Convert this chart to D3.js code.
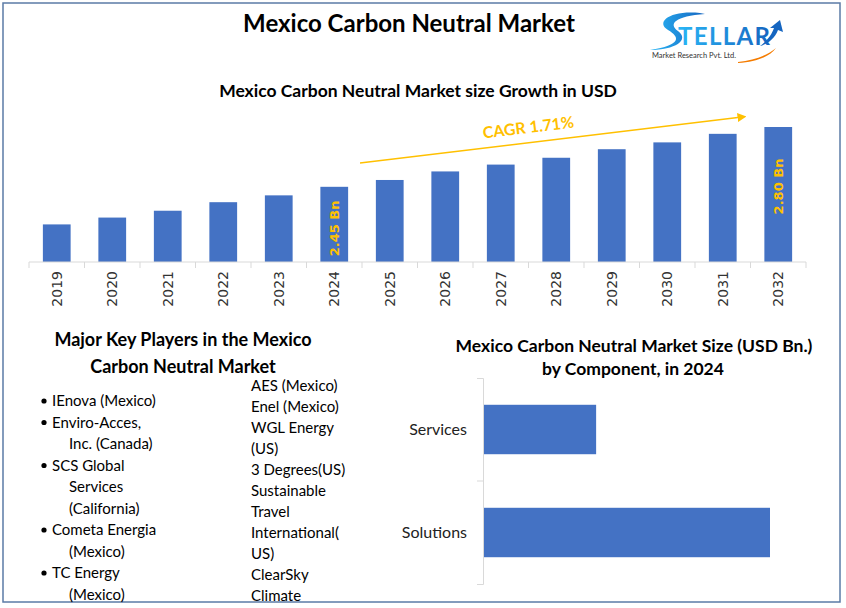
<!DOCTYPE html>
<html>
<head>
<meta charset="utf-8">
<script src="https://cdn.jsdelivr.net/npm/d3@7"></script>
<style>
  body { margin: 0; background: #fff; }
  svg { display: block; }
</style>
</head>
<body>
<svg width="846" height="608"></svg>
<script>
// data
var years = [2019, 2020, 2021, 2022, 2023, 2024, 2025, 2026, 2027, 2028, 2029, 2030, 2031, 2032];
var marketSize = [2.23, 2.27, 2.31, 2.36, 2.40, 2.45, 2.49, 2.54, 2.58, 2.62, 2.67, 2.71, 2.76, 2.80]; // USD Bn
var valueLabels = [{ year: 2024, text: '2.45 Bn' }, { year: 2032, text: '2.80 Bn' }];
var cagrText = 'CAGR 1.71%';

var components = ['Services', 'Solutions'];
var componentValues = [0.69, 1.76]; // USD Bn, 2024

var playersLeft = [
  ['IEnova (Mexico)'],
  ['Enviro-Acces,', 'Inc. (Canada)'],
  ['SCS Global', 'Services', '(California)'],
  ['Cometa Energia', '(Mexico)'],
  ['TC Energy', '(Mexico)']
];
var playersRight = ['AES (Mexico)', 'Enel (Mexico)', 'WGL Energy', '(US)', '3 Degrees(US)',
  'Sustainable', 'Travel', 'International(', 'US)', 'ClearSky', 'Climate'];

var pic = d3.select('svg');
var blue = '#4472c4';
var gold = '#ffc000';
var font = 'Lato, Carlito, sans-serif';

// frame
pic.append('rect').attr('x', 3).attr('y', 3).attr('width', 837).attr('height', 599)
  .attr('fill', 'none').attr('stroke', '#5b7ba6').attr('stroke-width', 1.5);

// titles
pic.append('text').attr('x', 409).attr('y', 32).attr('text-anchor', 'middle')
  .style('font', 'bold 24px ' + font).attr('fill', '#000').text('Mexico Carbon Neutral Market');
pic.append('text').attr('x', 418).attr('y', 97).attr('text-anchor', 'middle')
  .style('font', 'bold 17.5px ' + font).attr('fill', '#000').text('Mexico Carbon Neutral Market size Growth in USD');

// logo (rough)
var logo = pic.append('g');
var grad = pic.append('defs').append('linearGradient').attr('id', 'lg').attr('x1', 0).attr('x2', 1);
grad.append('stop').attr('offset', 0).attr('stop-color', '#29b6f6');
grad.append('stop').attr('offset', 1).attr('stop-color', '#1565c0');
logo.append('path').attr('d', 'M700,13 C670,10 655,22 668,30 C680,37 682,45 650,50 C675,50 690,40 678,31 C668,24 675,16 705,14 Z')
  .attr('fill', 'url(#lg)');
logo.append('text').attr('x', 678).attr('y', 45).style('font', 'bold 24px ' + font)
  .attr('fill', 'url(#lg)').attr('textLength', 92).text('TELLAR');
logo.append('path').attr('d', 'M760,46 C768,40 772,34 774,28 L770,28 L780,20 L783,32 L778,30 C775,38 768,44 760,46 Z')
  .attr('fill', '#1565c0');
logo.append('text').attr('x', 652).attr('y', 58).style('font', '7.5px ' + font)
  .attr('fill', '#333').text('Market Research Pvt. Ltd.');
logo.append('path').attr('d', 'M738,62 C755,60 768,55 776,48 C770,56 758,62 738,63 Z').attr('fill', '#f57c00');

// ---- growth bar chart ----
var x = d3.scaleBand().domain(years).range([29, 806]).paddingInner(0.5).paddingOuter(0.25);
var y = d3.scaleLinear().domain([2.01, 2.80]).range([262, 127]);

pic.append('g').selectAll('rect').data(years).enter().append('rect')
  .attr('x', function (d) { return x(d); })
  .attr('y', function (d, i) { return y(marketSize[i]); })
  .attr('width', x.bandwidth())
  .attr('height', function (d, i) { return 262 - y(marketSize[i]); })
  .attr('fill', blue);

// axis with ticks between categories
var xAxis = pic.append('g').attr('transform', 'translate(0,262)');
xAxis.append('line').attr('x1', 29).attr('x2', 806).attr('stroke', '#d9d9d9');
var bounds = years.map(function (d) { return x(d) - x.step() * x.paddingInner() / 2; });
bounds.push(806);
xAxis.selectAll('.tk').data(bounds).enter().append('line')
  .attr('x1', function (d) { return d; }).attr('x2', function (d) { return d; })
  .attr('y1', 0).attr('y2', 6).attr('stroke', '#d9d9d9');
xAxis.selectAll('text').data(years).enter().append('text')
  .attr('transform', function (d) { return 'translate(' + (x(d) + x.bandwidth() / 2) + ',9) rotate(-90)'; })
  .attr('text-anchor', 'end').attr('dy', '0.35em')
  .style('font', '14px "DejaVu Sans", sans-serif').attr('fill', '#333')
  .text(function (d) { return d; });

// value labels inside bars
pic.append('g').selectAll('text').data(valueLabels).enter().append('text')
  .attr('transform', function (d) {
    var v = marketSize[years.indexOf(d.year)];
    var cy = (y(v) + 262) / 2 + (d.year === 2024 ? 4 : -8);
    return 'translate(' + (x(d.year) + x.bandwidth() / 2) + ',' + cy + ') rotate(-90)';
  })
  .attr('text-anchor', 'middle').attr('dy', '0.35em')
  .style('font', 'bold 13px "DejaVu Sans", sans-serif').attr('fill', gold)
  .text(function (d) { return d.text; });

// CAGR arrow
var defs = pic.select('defs');
defs.append('marker').attr('id', 'arr').attr('viewBox', '0 0 10 10').attr('refX', 5).attr('refY', 5)
  .attr('markerWidth', 6).attr('markerHeight', 6).attr('orient', 'auto')
  .append('path').attr('d', 'M0,0 L10,5 L0,10 Z').attr('fill', gold);
pic.append('line').attr('x1', 360).attr('y1', 163).attr('x2', 742).attr('y2', 117)
  .attr('stroke', gold).attr('stroke-width', 1.5).attr('marker-end', 'url(#arr)');
pic.append('text').attr('transform', 'translate(529,133) rotate(-7)').attr('text-anchor', 'middle')
  .style('font', 'bold 16px ' + font).attr('fill', gold).text(cagrText);

// ---- key players ----
pic.append('text').attr('x', 183).attr('y', 346).attr('text-anchor', 'middle')
  .style('font', 'bold 18px ' + font).text('Major Key Players in the Mexico');
pic.append('text').attr('x', 183).attr('y', 373).attr('text-anchor', 'middle')
  .style('font', 'bold 18px ' + font).text('Carbon Neutral Market');

var lh = 21.5, row = 0;
var left = pic.append('g').style('font', '15px ' + font).attr('fill', '#000');
playersLeft.forEach(function (item) {
  item.forEach(function (line, j) {
    var by = 406 + lh * row;
    if (j === 0) {
      left.append('circle').attr('cx', 44).attr('cy', by - 5).attr('r', 2.6).attr('fill', '#000');
    }
    left.append('text').attr('x', j === 0 ? 52 : 69).attr('y', by).text(line);
    row++;
  });
});
var right = pic.append('g').style('font', '15px ' + font).attr('fill', '#000');
right.selectAll('text').data(playersRight).enter().append('text')
  .attr('x', 251).attr('y', function (d, i) { return 391 + 21 * i; })
  .text(function (d) { return d; });

// ---- component bar chart ----
pic.append('text').attr('x', 634).attr('y', 352).attr('text-anchor', 'middle')
  .style('font', 'bold 17.5px ' + font).text('Mexico Carbon Neutral Market Size (USD Bn.)');
pic.append('text').attr('x', 633).attr('y', 375).attr('text-anchor', 'middle')
  .style('font', 'bold 17.5px ' + font).text('by Component, in 2024');

var cy = d3.scaleBand().domain(components).range([378, 584]).paddingInner(0.52).paddingOuter(0.26);
var cx = d3.scaleLinear().domain([0, 2]).range([483, 808]);

pic.append('g').selectAll('rect').data(components).enter().append('rect')
  .attr('x', cx(0) + 1).attr('y', function (d) { return cy(d); })
  .attr('width', function (d, i) { return cx(componentValues[i]) - cx(0); })
  .attr('height', cy.bandwidth()).attr('fill', blue);

var yAxis = d3.axisLeft(cy).tickSize(0).tickPadding(16);
var ga = pic.append('g').attr('transform', 'translate(483,0)').call(yAxis);
ga.select('.domain').attr('stroke', '#d9d9d9').attr('d', 'M-6,378.5H0.5V584.5H-6');
ga.selectAll('text').style('font', '16px ' + font).attr('fill', '#222');
ga.append('line').attr('x1', -6).attr('x2', 0).attr('y1', 481).attr('y2', 481).attr('stroke', '#d9d9d9');
</script>
</body>
</html>
